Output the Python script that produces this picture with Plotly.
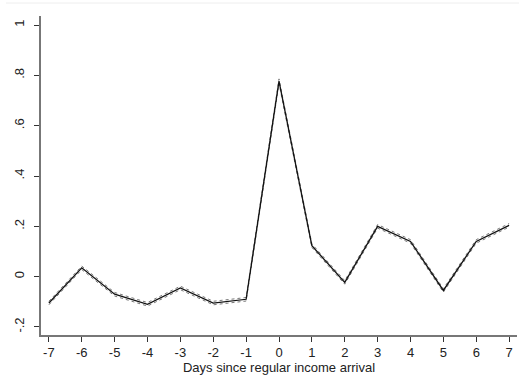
import plotly.graph_objects as go

days = [-7, -6, -5, -4, -3, -2, -1, 0, 1, 2, 3, 4, 5, 6, 7]
effect = [-0.105, 0.035, -0.07, -0.11, -0.045, -0.105, -0.09, 0.777, 0.123, -0.023, 0.20, 0.14, -0.055, 0.14, 0.204]
ci_upper = [-0.098, 0.042, -0.063, -0.103, -0.038, -0.098, -0.083, 0.786, 0.130, -0.016, 0.207, 0.147, -0.048, 0.147, 0.211]
ci_lower = [-0.112, 0.028, -0.077, -0.117, -0.052, -0.112, -0.097, 0.768, 0.116, -0.030, 0.193, 0.133, -0.062, 0.133, 0.197]

x_ticks = [-7, -6, -5, -4, -3, -2, -1, 0, 1, 2, 3, 4, 5, 6, 7]
x_tick_labels = ["-7", "-6", "-5", "-4", "-3", "-2", "-1", "0", "1", "2", "3", "4", "5", "6", "7"]
y_ticks = [-0.2, 0, 0.2, 0.4, 0.6, 0.8, 1]
y_tick_labels = ["-.2", "0", ".2", ".4", ".6", ".8", "1"]

W, H = 520, 377
ML, MR, MT, MB = 41, 3, 16, 42

fig = go.Figure()
fig.add_hline(y=0, line=dict(color="#222222", width=1.2), layer="below")
for ci in (ci_upper, ci_lower):
    fig.add_trace(go.Scatter(x=days, y=ci, mode="lines",
                             line=dict(color="#777777", width=1, dash="dot"),
                             showlegend=False, hoverinfo="skip"))
fig.add_trace(go.Scatter(x=days, y=effect, mode="lines",
                         line=dict(color="#111111", width=1.3),
                         showlegend=False))

axis_font = dict(family="Liberation Sans, Arial, sans-serif", size=13, color="#222222")
plot_h = H - MT - MB
plot_w = W - ML - MR
fig.update_layout(
    width=W, height=H,
    margin=dict(l=ML, r=MR, t=MT, b=MB),
    paper_bgcolor="white", plot_bgcolor="white",
    font=axis_font,
    xaxis=dict(range=[-7.24, 7.24], tickvals=x_ticks, ticktext=x_tick_labels,
               ticks="outside", ticklen=5,
               tickcolor="#333333", showline=True, linecolor="#777777", linewidth=1.5,
               showgrid=False, zeroline=False, tickfont=axis_font,
               title=dict(text="Days since regular income arrival", font=axis_font, standoff=2)),
    yaxis=dict(range=[-0.232, 1.036], tickvals=y_ticks, ticktext=y_tick_labels,
               ticks="outside", ticklen=5, tickcolor="#333333", tickangle=-90,
               ticklabelstandoff=5,
               showline=True, linecolor="#777777", linewidth=1.5,
               showgrid=False, zeroline=False, tickfont=axis_font),
    shapes=[dict(type="line", xref="paper", yref="paper",
                 x0=-(ML - 6) / plot_w, x1=1 + (MR - 1) / plot_w,
                 y0=1 + (MT - 3) / plot_h, y1=1 + (MT - 3) / plot_h,
                 line=dict(color="#eeeeee", width=1))],
)
fig.write_html("out.html", config={"displayModeBar": False},
               post_script="document.body.style.margin='0';")
